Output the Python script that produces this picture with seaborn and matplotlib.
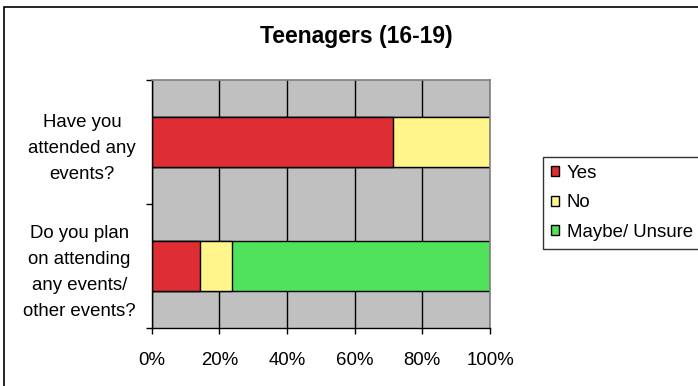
import matplotlib
matplotlib.use("Agg")
import matplotlib.pyplot as plt
from matplotlib.patches import Patch, Rectangle
import numpy as np
import pandas as pd
import seaborn as sns

# Survey answers (percent of respondents)
questions = [
    "Have you\nattended any\nevents?",
    "Do you plan\non attending\nany events/\nother events?",
]
responses = ["Yes", "No", "Maybe/ Unsure"]
yes = [71.4, 14.3]
no = [28.6, 9.5]
maybe = [0.0, 76.2]
x_ticks = [0, 20, 40, 60, 80, 100]
x_tick_labels = ["0%", "20%", "40%", "60%", "80%", "100%"]
title = "Teenagers (16-19)"

palette = {"Yes": "#DE2D35", "No": "#FFF58A", "Maybe/ Unsure": "#4FE25A"}

sns.set_theme(style="white")
plt.rcParams["font.family"] = ["Liberation Sans", "DejaVu Sans"]
plt.rcParams.update({"text.color": "black", "xtick.color": "black",
                     "ytick.color": "black", "axes.labelcolor": "black"})

df = pd.DataFrame({"question": questions, "Yes": yes, "No": no, "Maybe/ Unsure": maybe})
cum = df[responses].cumsum(axis=1)

W, H = 698, 386
fig = plt.figure(figsize=(W / 100, H / 100), dpi=100)
fig.patch.set_facecolor("white")
ax = fig.add_axes([151.7 / W, 1 - 328 / H, (490 - 151.7) / W, 248 / H])
ax.set_facecolor("#C0C0C0")
ax.set_axisbelow(True)

# stacked bars: draw cumulative totals back to front
for resp in reversed(responses):
    sns.barplot(x=cum[resp], y=df["question"], order=questions, orient="h",
                color=palette[resp], saturation=1, edgecolor="black",
                linewidth=1.0, width=0.4, errorbar=None, ax=ax)

ax.set_xlim(0, 100)
ax.set_ylim(1.5, -0.5)
ax.set_xlabel("")
ax.set_ylabel("")

ax.set_xticks(x_ticks)
ax.set_xticklabels(x_tick_labels, fontsize=13.4, color="black")
ax.tick_params(axis="x", which="major", direction="out", length=4, width=1,
               color="black", pad=13.5, bottom=True)
ax.xaxis.grid(True, color="black", linewidth=1)
ax.yaxis.grid(False)

ax.set_yticks([-0.5, 0.5, 1.5])
ax.set_yticklabels([])
ax.set_yticks([0, 1], minor=True)
ax.set_yticklabels(questions, minor=True, fontsize=13.4, ha="right",
                   multialignment="center", linespacing=1.68, color="black")
ax.tick_params(axis="y", which="major", direction="out", length=4, width=1,
               color="black", left=True)
ax.tick_params(axis="y", which="minor", length=0, pad=11.5)

for side in ["left", "bottom"]:
    ax.spines[side].set_color("black")
    ax.spines[side].set_linewidth(1)
for side in ["top", "right"]:
    ax.spines[side].set_color("#808080")
    ax.spines[side].set_linewidth(1.2)

fig.text(356 / W, 1 - 43 / H, title, fontsize=16.5, fontweight="bold",
         ha="center", va="baseline", color="black")

handles = [Patch(facecolor=palette[r], edgecolor="black", linewidth=1) for r in responses]
leg = fig.legend(handles, responses, loc="upper left",
                 bbox_to_anchor=(543 / W, 1 - 157 / H), bbox_transform=fig.transFigure,
                 fontsize=13.4, frameon=True, fancybox=False, borderaxespad=0,
                 borderpad=0.42, labelspacing=0.68, handlelength=0.45,
                 handleheight=0.45, handletextpad=0.4)
leg.get_frame().set_edgecolor("black")
leg.get_frame().set_linewidth(1)
for t in leg.get_texts():
    t.set_color("black")

# outer chart frame
fig.add_artist(Rectangle((4 / W, -0.05), 1.2, (1 - 7 / H) + 0.05,
                         transform=fig.transFigure, fill=False,
                         edgecolor="black", linewidth=1.2))

fig.savefig("out.png", dpi=100)
